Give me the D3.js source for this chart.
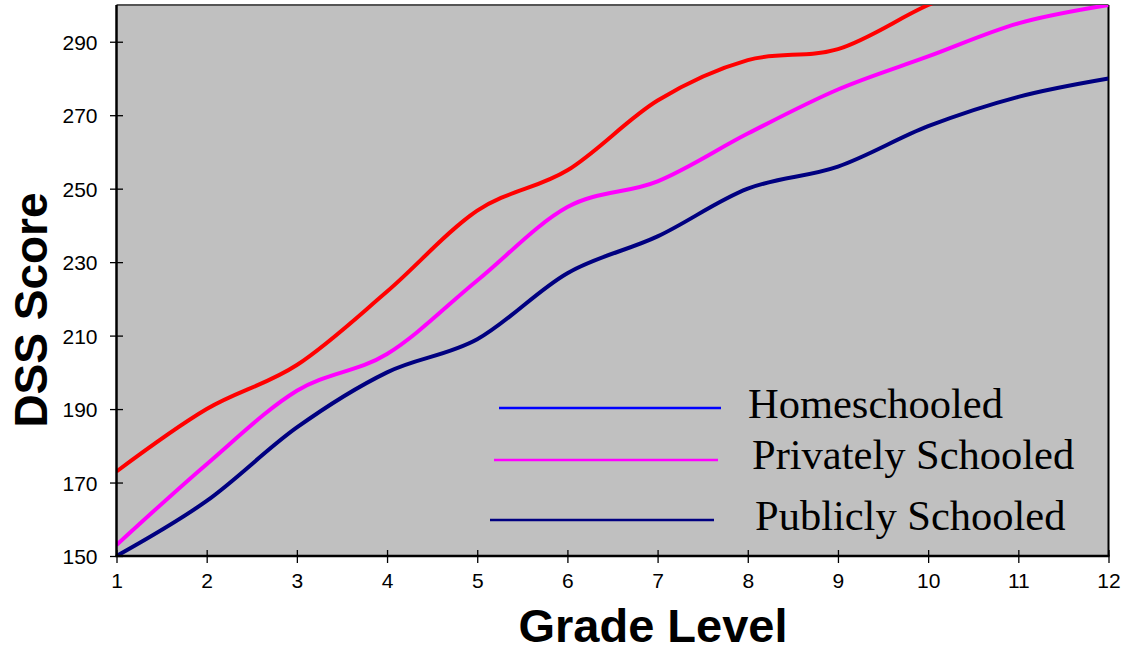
<!DOCTYPE html>
<html>
<head>
<meta charset="utf-8">
<script src="https://cdn.jsdelivr.net/npm/d3@7"></script>
<style>
  html, body { margin: 0; padding: 0; background: #ffffff; }
  svg { display: block; }
</style>
</head>
<body>
<svg id="chart" width="1129" height="651"></svg>
<script>
// ---- data ----
const grades = [1, 2, 3, 4, 5, 6, 7, 8, 9, 10, 11, 12];
const homeschooled = [173, 190, 202, 222, 244, 255, 274, 285, 288, 300, 310, 318];
const privatelySchooled = [153, 175, 195, 205, 225, 245, 252, 265, 277, 286, 295, 300];
const publiclySchooled = [150, 165, 185, 200, 209, 227, 237, 250, 256, 267, 275, 280];
const yTickValues = [150, 170, 190, 210, 230, 250, 270, 290];
const seriesNames = ["Homeschooled", "Privately Schooled", "Publicly Schooled"];

(function () {
// ---- layout ----
const svg = d3.select("#chart");
const pLeft = 116.5, pRight = 1108.5, pTop = 5, pBottom = 556;

const x = d3.scaleLinear().domain([1, 12]).range([pLeft, pRight]);
const y = d3.scaleLinear().domain([150, 300]).range([pBottom, pTop]);

// plot background
svg.append("rect")
  .attr("x", pLeft).attr("y", pTop)
  .attr("width", pRight - pLeft).attr("height", pBottom - pTop)
  .attr("fill", "#c0c0c0");

svg.append("defs").append("clipPath").attr("id", "plotclip")
  .append("rect")
  .attr("x", pLeft).attr("y", pTop)
  .attr("width", pRight - pLeft).attr("height", pBottom - pTop);

// top and right border
svg.append("line").attr("x1", pLeft).attr("x2", pRight).attr("y1", pTop).attr("y2", pTop)
  .attr("stroke", "#555").attr("stroke-width", 2);
svg.append("line").attr("x1", pRight).attr("x2", pRight).attr("y1", pTop).attr("y2", pBottom)
  .attr("stroke", "#000").attr("stroke-width", 2);

// lines
const line = d3.line()
  .x((d, i) => x(grades[i]))
  .y(d => y(d))
  .curve(d3.curveCatmullRom.alpha(0));

const series = [
  { values: homeschooled, color: "#ff0000" },
  { values: privatelySchooled, color: "#ff00ff" },
  { values: publiclySchooled, color: "#000080" }
];

const g = svg.append("g").attr("clip-path", "url(#plotclip)");
g.selectAll("path.series")
  .data(series)
  .join("path")
  .attr("class", "series")
  .attr("d", d => line(d.values))
  .attr("fill", "none")
  .attr("stroke", d => d.color)
  .attr("stroke-width", 4)
  .attr("stroke-linejoin", "round");

// y axis
const yAxis = svg.append("g")
  .attr("transform", `translate(${pLeft},0)`)
  .call(d3.axisLeft(y).tickValues(yTickValues).tickSize(6).tickPadding(13).tickSizeOuter(0));
yAxis.select(".domain").attr("stroke", "#000").attr("stroke-width", 2.5)
  .attr("d", `M0,${pTop}V${pBottom}`);
yAxis.selectAll(".tick line").attr("x1", 6.5).attr("x2", -6.5).attr("stroke", "#000").attr("stroke-width", 1.3);
yAxis.selectAll(".tick text")
  .attr("font-family", "'Liberation Sans', Arial, sans-serif")
  .attr("font-size", 21).attr("fill", "#000").attr("dy", "0.36em");

// x axis
const xAxis = svg.append("g")
  .attr("transform", `translate(0,${pBottom})`)
  .call(d3.axisBottom(x).tickValues(grades).tickSize(7).tickPadding(10).tickSizeOuter(0).tickFormat(d3.format("d")));
xAxis.select(".domain").attr("stroke", "#000").attr("stroke-width", 2.5)
  .attr("d", `M${pLeft - 1},0H${pRight + 1}`);
xAxis.selectAll(".tick line").attr("y1", -6).attr("y2", 7).attr("stroke", "#000").attr("stroke-width", 1.3);
xAxis.selectAll(".tick text")
  .attr("font-family", "'Liberation Sans', Arial, sans-serif")
  .attr("font-size", 21).attr("fill", "#000");

// axis titles
svg.append("text")
  .attr("x", 653).attr("y", 642)
  .attr("text-anchor", "middle")
  .attr("font-family", "'Liberation Sans', Arial, sans-serif")
  .attr("font-weight", "bold").attr("font-size", 47)
  .text("Grade Level");

svg.append("text")
  .attr("transform", "translate(47,310) rotate(-90)")
  .attr("text-anchor", "middle")
  .attr("font-family", "'Liberation Sans', Arial, sans-serif")
  .attr("font-weight", "bold").attr("font-size", 46)
  .text("DSS Score");

// legend
const legendItems = [
  { name: seriesNames[0], color: "#0000ff", lx1: 499, lx2: 721, ly: 408, tx: 748, ty: 418 },
  { name: seriesNames[1], color: "#ff00ff", lx1: 494, lx2: 718, ly: 460, tx: 752, ty: 469 },
  { name: seriesNames[2], color: "#000080", lx1: 490, lx2: 714, ly: 520, tx: 755, ty: 530 }
];
const lg = svg.append("g");
lg.selectAll("line")
  .data(legendItems).join("line")
  .attr("x1", d => d.lx1).attr("x2", d => d.lx2)
  .attr("y1", d => d.ly).attr("y2", d => d.ly)
  .attr("stroke", d => d.color).attr("stroke-width", 2.5);
lg.selectAll("text")
  .data(legendItems).join("text")
  .attr("x", d => d.tx).attr("y", d => d.ty)
  .attr("font-family", "'Liberation Serif', 'Times New Roman', serif")
  .attr("font-size", 42.5).attr("fill", "#000")
  .text(d => d.name);
})();
</script>
</body>
</html>
